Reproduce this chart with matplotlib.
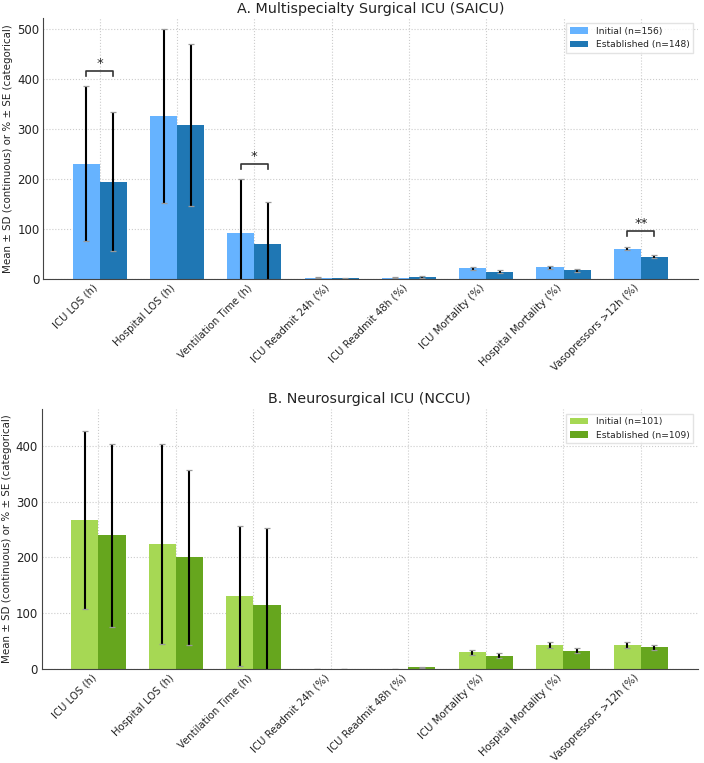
"""ICU outcomes, initial vs established cohorts — two-panel bar chart."""

import numpy as np
import matplotlib
matplotlib.use('Agg')
import matplotlib.pyplot as plt

plt.rcParams.update({
    'font.family': 'DejaVu Sans',
    'axes.edgecolor': '#444444',
    'text.color': '#222222',
    'axes.labelcolor': '#222222',
    'xtick.color': '#222222',
    'ytick.color': '#222222',
})

# ── Data ──────────────────────────────────────────────────────────────────────
outcomes = ['ICU LOS (h)', 'Hospital LOS (h)', 'Ventilation Time (h)',
            'ICU Readmit 24h (%)', 'ICU Readmit 48h (%)', 'ICU Mortality (%)',
            'Hospital Mortality (%)', 'Vasopressors >12h (%)']

saicu_initial     = [231, 327, 93, 2.6, 2.6, 22.5, 24.5, 61.5]
saicu_initial_err = [155, 174, 107, 1.0, 1.0, 3.0, 3.0, 3.5]
saicu_estab       = [195, 308, 71, 1.6, 4.5, 15.5, 18.0, 45.5]
saicu_estab_err   = [139, 162, 84, 0.8, 1.2, 2.8, 2.8, 3.5]
saicu_labels      = ['Initial (n=156)', 'Established (n=148)']
saicu_sig         = {0: '*', 2: '*', 7: '**'}

nccu_initial     = [267.5, 223.5, 131, 0.0, 0.0, 30.3, 43.4, 43.4]
nccu_initial_err = [159, 179, 125, 0.0, 0.0, 4.7, 5.0, 5.0]
nccu_estab       = [240, 200, 115, 0.0, 3.0, 24.4, 33.3, 39.2]
nccu_estab_err   = [164, 156, 138, 0.0, 1.6, 4.0, 4.5, 4.5]
nccu_labels      = ['Initial (n=101)', 'Established (n=109)']

WIDTH = 0.35
YLABEL = 'Mean ± SD (continuous) or % ± SE (categorical)'


def draw_panel(ax, title, init, init_err, est, est_err, labels, colors,
               ymax, sig=None):
    x = np.arange(len(outcomes))
    ekw = dict(ecolor='black', elinewidth=1.5, capsize=2.5, capthick=0.9)
    for xs, vals, errs, lab, col in [(x - WIDTH / 2, init, init_err, labels[0], colors[0]),
                                     (x + WIDTH / 2, est, est_err, labels[1], colors[1])]:
        bc = ax.bar(xs, vals, WIDTH, yerr=errs, color=col, label=lab,
                    error_kw=ekw, zorder=2)
        for cap in bc.errorbar.lines[1]:
            cap.set_markeredgecolor('#999999')

    if sig:
        for i, mark in sig.items():
            top = max(init[i] + init_err[i], est[i] + est_err[i])
            y = top + 0.06 * ymax
            h = 0.02 * ymax
            x0, x1 = i - WIDTH / 2, i + WIDTH / 2
            ax.plot([x0, x0, x1, x1], [y - h, y, y, y - h],
                    color='#333333', lw=1.2, zorder=3)
            ax.text(i, y + 0.004 * ymax, mark, ha='center', va='bottom',
                    fontsize=9.5, color='#222222')

    ax.set_ylim(0, ymax)
    ax.set_xticks(x)
    ax.set_xticklabels(outcomes, rotation=45, ha='right', fontsize=7.3)
    ax.tick_params(axis='y', labelsize=8.5)
    ax.tick_params(length=0, pad=2.5)
    ax.set_ylabel(YLABEL, fontsize=7.4, labelpad=3)
    ax.set_title(title, fontsize=10.3, pad=4)
    ax.grid(True, linestyle=':', color='#cccccc', linewidth=0.8, zorder=0)
    ax.set_axisbelow(True)
    for side in ('top', 'right'):
        ax.spines[side].set_visible(False)
    ax.legend(loc='upper right', fontsize=6.6, frameon=True,
              edgecolor='#dddddd', fancybox=False)


fig = plt.figure(figsize=(7.04, 7.63), dpi=100, facecolor='white')
ax1 = fig.add_axes([0.061, 0.634, 0.930, 0.342])
ax2 = fig.add_axes([0.059, 0.123, 0.932, 0.341])

draw_panel(ax1, 'A. Multispecialty Surgical ICU (SAICU)',
           saicu_initial, saicu_initial_err, saicu_estab, saicu_estab_err,
           saicu_labels, ['#66b3ff', '#1f77b4'], 522, sig=saicu_sig)
draw_panel(ax2, 'B. Neurosurgical ICU (NCCU)',
           nccu_initial, nccu_initial_err, nccu_estab, nccu_estab_err,
           nccu_labels, ['#a6d854', '#66a61e'], 466)

fig.savefig('out.png', dpi=100)
